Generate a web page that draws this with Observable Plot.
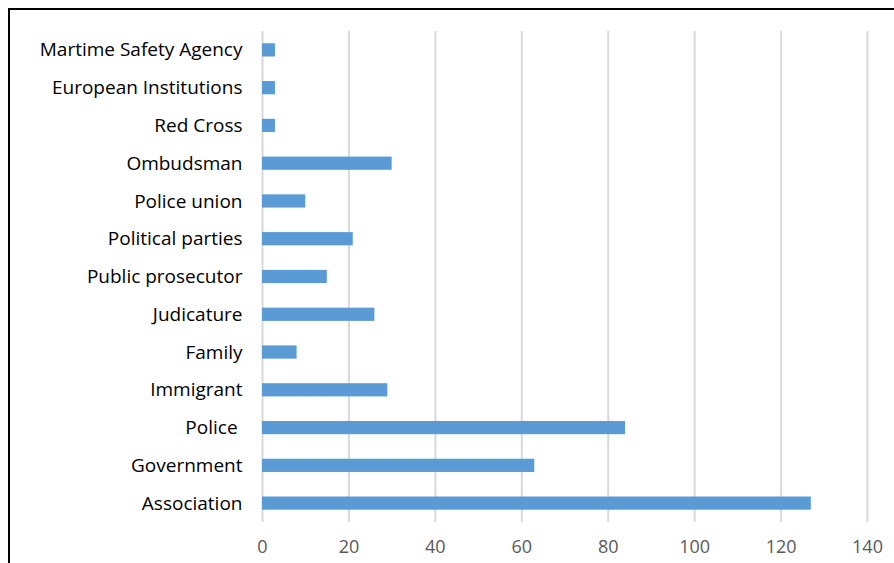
<!DOCTYPE html>
<html>
<head>
<meta charset="utf-8">
<script src="https://cdn.jsdelivr.net/npm/d3@7"></script>
<script src="https://cdn.jsdelivr.net/npm/@observablehq/plot@0.6"></script>
<style>
  html, body { margin: 0; padding: 0; background: #fff; }
  #wrap { position: relative; width: 894px; height: 563px; overflow: hidden; }
  #frame { position: absolute; left: 8px; top: 8px; width: 900px; height: 600px;
           border-left: 2.5px solid #000; border-top: 2.5px solid #000; pointer-events: none; }
</style>
</head>
<body>
<div id="wrap"><div id="frame"></div></div>
<script>
const categories = [
  "Martime Safety Agency", "European Institutions", "Red Cross", "Ombudsman",
  "Police union", "Political parties", "Public prosecutor", "Judicature",
  "Family", "Immigrant", "Police ", "Government", "Association"
];
const values = [3, 3, 3, 30, 10, 21, 15, 26, 8, 29, 84, 63, 127];
const xTicks = [0, 20, 40, 60, 80, 100, 120, 140];

const data = categories.map((c, i) => ({category: c, value: values[i]}));

const chart = Plot.plot({
  width: 894,
  height: 563,
  marginLeft: 262,
  marginRight: 27,
  marginTop: 31,
  marginBottom: 41,
  style: {fontFamily: "'Open Sans', sans-serif", background: "transparent"},
  x: {domain: [0, 140], ticks: xTicks, label: null},
  y: {domain: categories, paddingInner: 0.65, paddingOuter: 0.325, round: false, label: null},
  marks: [
    Plot.ruleX(xTicks, {stroke: "#d9d9d9", strokeWidth: 2}),
    Plot.barX(data, {x: "value", y: "category", fill: "#5b9bd5"}),
    Plot.axisX({ticks: xTicks, tickSize: 0, tickPadding: 18, fontSize: 18, color: "#595959", label: null}),
    Plot.axisY({tickSize: 0, tickPadding: 20, fontSize: 19, color: "#000", label: null})
  ]
});
document.getElementById("wrap").prepend(chart);
</script>
</body>
</html>
